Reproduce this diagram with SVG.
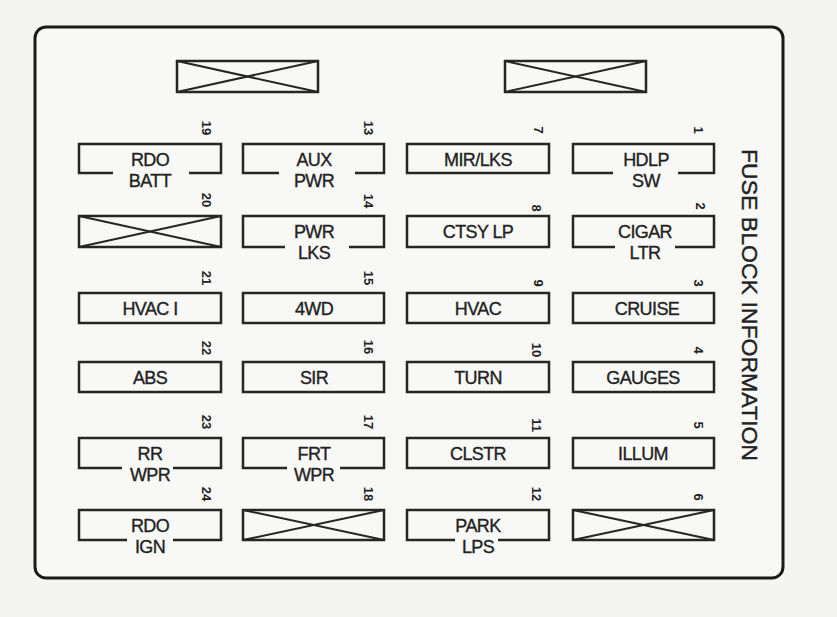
<svg xmlns="http://www.w3.org/2000/svg" width="837" height="617" viewBox="0 0 837 617">
<style>
.bg{fill:#f4f4f2}
.panel{fill:#f8f8f6;stroke:#1a1a1a;stroke-width:3}
.fuse{fill:none;stroke:#262626;stroke-width:2.5}
.x{stroke:#262626;stroke-width:2}
.lbl{font-family:"Liberation Sans",Arial,sans-serif;font-size:18px;fill:#222;stroke:#222;stroke-width:0.35;text-anchor:middle;letter-spacing:-0.6px}
.num{font-family:"Liberation Sans",Arial,sans-serif;font-size:13px;font-weight:bold;fill:#222;text-anchor:middle;dominant-baseline:central}
.title{font-family:"Liberation Sans",Arial,sans-serif;font-size:22px;fill:#222;stroke:#222;stroke-width:0.4;text-anchor:middle;dominant-baseline:central}
</style>
<rect class="bg" x="0" y="0" width="837" height="617"/>
<g id="panel">
<rect class="panel" x="35" y="27" width="748" height="551" rx="11"/>
<text class="title" transform="translate(749,305) rotate(90)" textLength="312" lengthAdjust="spacingAndGlyphs">FUSE BLOCK INFORMATION</text>
</g>
<g id="spare-top-left"><rect class="fuse" x="177" y="61" width="141" height="31"/><line class="x" x1="177" y1="61" x2="318" y2="92"/><line class="x" x1="177" y1="92" x2="318" y2="61"/></g>
<g id="spare-top-right"><rect class="fuse" x="505" y="61" width="141" height="31"/><line class="x" x1="505" y1="61" x2="646" y2="92"/><line class="x" x1="505" y1="92" x2="646" y2="61"/></g>

<!-- column 1 -->
<g id="fuse-19"><path class="fuse" d="M113 173 H79 V144 H221 V173 H189"/><text class="lbl" x="150" y="166">RDO</text><text class="lbl" x="150" y="187">BATT</text><text class="num" transform="translate(206,128) rotate(90)">19</text></g>
<g id="fuse-20"><rect class="fuse" x="79" y="216" width="142" height="31"/><line class="x" x1="79" y1="216" x2="221" y2="247"/><line class="x" x1="79" y1="247" x2="221" y2="216"/><text class="num" transform="translate(206,200) rotate(90)">20</text></g>
<g id="fuse-21"><rect class="fuse" x="79" y="293" width="142" height="30"/><text class="lbl" x="150" y="315">HVAC I</text><text class="num" transform="translate(206,278) rotate(90)">21</text></g>
<g id="fuse-22"><rect class="fuse" x="79" y="362" width="142" height="30"/><text class="lbl" x="150" y="384">ABS</text><text class="num" transform="translate(206,348) rotate(90)">22</text></g>
<g id="fuse-23"><path class="fuse" d="M122 468 H79 V438 H221 V468 H173"/><text class="lbl" x="150" y="460">RR</text><text class="lbl" x="150" y="481">WPR</text><text class="num" transform="translate(206,422) rotate(90)">23</text></g>
<g id="fuse-24"><path class="fuse" d="M127 540 H79 V510 H221 V540 H173"/><text class="lbl" x="150" y="532">RDO</text><text class="lbl" x="150" y="553">IGN</text><text class="num" transform="translate(206,494) rotate(90)">24</text></g>

<!-- column 2 -->
<g id="fuse-13"><path class="fuse" d="M279 173 H243 V144 H384 V173 H355"/><text class="lbl" x="314" y="166">AUX</text><text class="lbl" x="314" y="187">PWR</text><text class="num" transform="translate(368,128) rotate(90)">13</text></g>
<g id="fuse-14"><path class="fuse" d="M285 247 H243 V216 H384 V247 H349"/><text class="lbl" x="314" y="238">PWR</text><text class="lbl" x="314" y="259">LKS</text><text class="num" transform="translate(368,201) rotate(90)">14</text></g>
<g id="fuse-15"><rect class="fuse" x="243" y="293" width="141" height="30"/><text class="lbl" x="314" y="315">4WD</text><text class="num" transform="translate(368,278) rotate(90)">15</text></g>
<g id="fuse-16"><rect class="fuse" x="243" y="362" width="141" height="30"/><text class="lbl" x="314" y="384">SIR</text><text class="num" transform="translate(368,347) rotate(90)">16</text></g>
<g id="fuse-17"><path class="fuse" d="M287 468 H243 V438 H384 V468 H340"/><text class="lbl" x="314" y="460">FRT</text><text class="lbl" x="314" y="481">WPR</text><text class="num" transform="translate(368,422) rotate(90)">17</text></g>
<g id="fuse-18"><rect class="fuse" x="243" y="510" width="141" height="30"/><line class="x" x1="243" y1="510" x2="384" y2="540"/><line class="x" x1="243" y1="540" x2="384" y2="510"/><text class="num" transform="translate(368,494) rotate(90)">18</text></g>

<!-- column 3 -->
<g id="fuse-7"><rect class="fuse" x="407" y="144" width="142" height="29"/><text class="lbl" x="478" y="166">MIR/LKS</text><text class="num" transform="translate(538,130) rotate(90)">7</text></g>
<g id="fuse-8"><rect class="fuse" x="407" y="216" width="142" height="31"/><text class="lbl" x="478" y="238">CTSY LP</text><text class="num" transform="translate(536,208) rotate(90)">8</text></g>
<g id="fuse-9"><rect class="fuse" x="407" y="293" width="142" height="30"/><text class="lbl" x="478" y="315">HVAC</text><text class="num" transform="translate(538,283) rotate(90)">9</text></g>
<g id="fuse-10"><rect class="fuse" x="407" y="362" width="142" height="30"/><text class="lbl" x="478" y="384">TURN</text><text class="num" transform="translate(536,350) rotate(90)">10</text></g>
<g id="fuse-11"><rect class="fuse" x="407" y="438" width="142" height="30"/><text class="lbl" x="478" y="460">CLSTR</text><text class="num" transform="translate(536,425) rotate(90)">11</text></g>
<g id="fuse-12"><path class="fuse" d="M455 540 H407 V510 H549 V540 H498"/><text class="lbl" x="478" y="532">PARK</text><text class="lbl" x="478" y="553">LPS</text><text class="num" transform="translate(536,494) rotate(90)">12</text></g>

<!-- column 4 -->
<g id="fuse-1"><path class="fuse" d="M613 173 H573 V144 H714 V173 H678"/><text class="lbl" x="646" y="166">HDLP</text><text class="lbl" x="646" y="187">SW</text><text class="num" transform="translate(698,130) rotate(90)">1</text></g>
<g id="fuse-2"><path class="fuse" d="M615 247 H573 V216 H714 V247 H675"/><text class="lbl" x="645" y="238">CIGAR</text><text class="lbl" x="645" y="259">LTR</text><text class="num" transform="translate(700,206) rotate(90)">2</text></g>
<g id="fuse-3"><rect class="fuse" x="573" y="293" width="141" height="30"/><text class="lbl" x="647" y="315">CRUISE</text><text class="num" transform="translate(698,283) rotate(90)">3</text></g>
<g id="fuse-4"><rect class="fuse" x="573" y="362" width="141" height="30"/><text class="lbl" x="643" y="384">GAUGES</text><text class="num" transform="translate(698,350) rotate(90)">4</text></g>
<g id="fuse-5"><rect class="fuse" x="573" y="438" width="141" height="30"/><text class="lbl" x="643" y="460">ILLUM</text><text class="num" transform="translate(698,425) rotate(90)">5</text></g>
<g id="fuse-6"><rect class="fuse" x="573" y="510" width="141" height="30"/><line class="x" x1="573" y1="510" x2="714" y2="540"/><line class="x" x1="573" y1="540" x2="714" y2="510"/><text class="num" transform="translate(698,497) rotate(90)">6</text></g>

<g id="connectors"></g>
</svg>
